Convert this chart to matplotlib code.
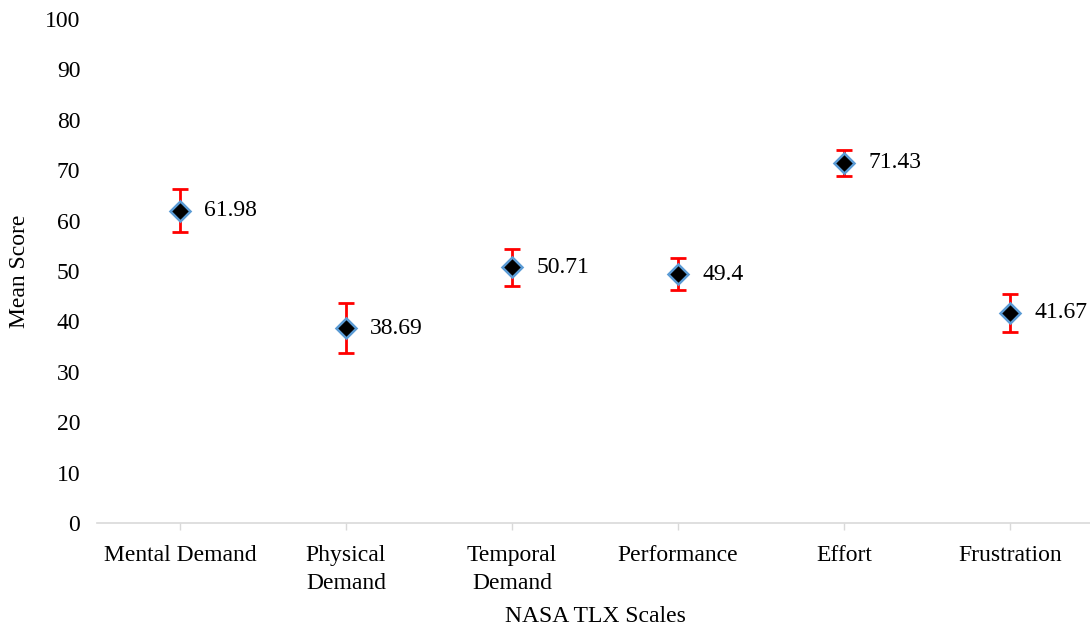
import matplotlib
matplotlib.use("Agg")
import matplotlib.pyplot as plt

categories = ["Mental Demand", "Physical\nDemand", "Temporal\nDemand", "Performance", "Effort", "Frustration"]
means = [61.98, 38.69, 50.71, 49.4, 71.43, 41.67]
errors = [4.2, 4.9, 3.6, 3.1, 2.5, 3.8]
value_labels = ["61.98", "38.69", "50.71", "49.4", "71.43", "41.67"]
y_ticks = [0, 10, 20, 30, 40, 50, 60, 70, 80, 90, 100]

plt.rcParams["font.family"] = ["Liberation Serif", "DejaVu Serif"]
FS = 17

W, H = 1090, 628
fig = plt.figure(figsize=(W / 100, H / 100), dpi=100)
ax = fig.add_axes([97 / W, (H - 523) / H, 996 / W, 504 / H])

x = list(range(len(categories)))
ax.errorbar(x, means, yerr=errors, fmt="none", ecolor="#FF0000", elinewidth=2,
            capsize=6, capthick=2, zorder=2)
ax.plot(x, means, linestyle="none", marker="D", markersize=10.5,
        markerfacecolor="black", markeredgecolor="#5B9BD5", markeredgewidth=1.8, zorder=3)

for xi, yi, lab in zip(x, means, value_labels):
    ax.annotate(lab, (xi, yi), xytext=(17.5, 0), textcoords="offset points",
                ha="left", va="center", fontsize=FS, color="black")

ax.set_xlim(-0.5, len(categories) - 0.5)
ax.set_ylim(0, 100)
ax.set_yticks(y_ticks)
ax.set_xticks(x)
ax.set_xticklabels(categories, fontsize=FS, linespacing=1.4)
ax.tick_params(axis="y", length=0, pad=12, labelsize=FS)
ax.tick_params(axis="x", length=5, width=1, color="#D9D9D9", pad=11)

for side in ["top", "right", "left"]:
    ax.spines[side].set_visible(False)
ax.spines["bottom"].set_color("#D9D9D9")
ax.spines["bottom"].set_linewidth(1.2)

ax.set_ylabel("Mean Score", fontsize=FS, va="center")
ax.yaxis.set_label_coords(-77 / 996, 0.5)
ax.set_xlabel("NASA TLX Scales", fontsize=FS, labelpad=9)

fig.savefig("out.png", dpi=100)
